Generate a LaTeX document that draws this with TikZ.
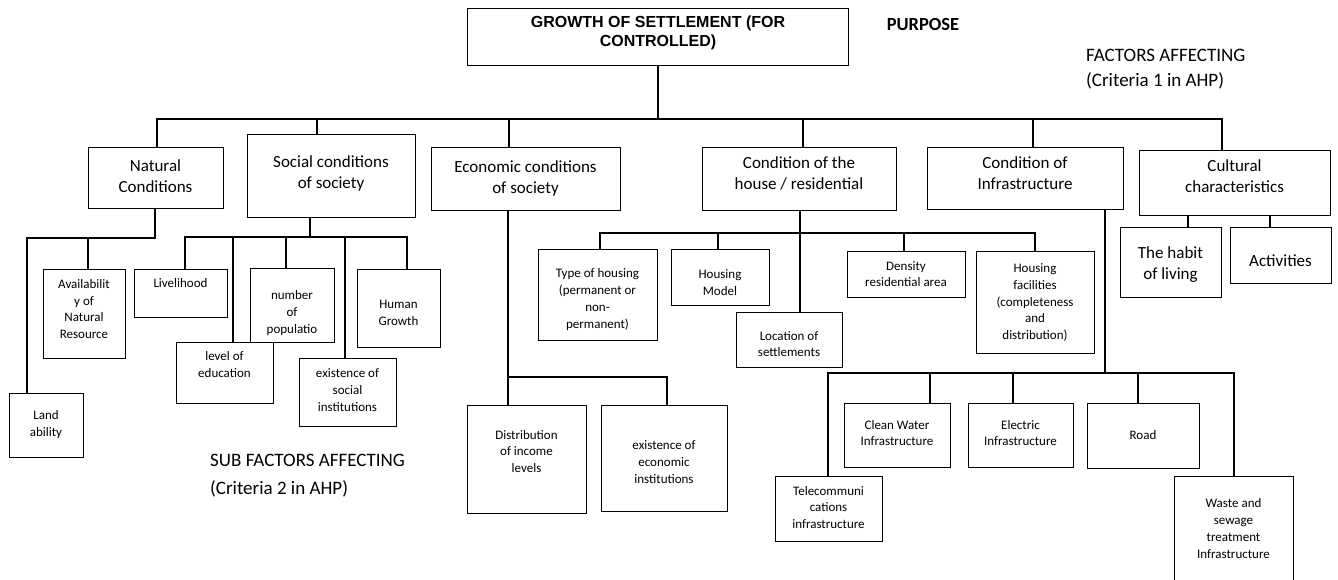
\documentclass[tikz,border=0pt]{standalone}
\usepackage{fontspec}
\setmainfont{Carlito}
\newfontfamily\arialf{Liberation Sans}
\newcommand\smallf{\fontsize{13}{16.7}\selectfont}
\newcommand\medf{\fontsize{17}{21}\selectfont}
\newcommand\bx[8]{%
  \node[boxst, anchor=north west, minimum width={#4pt-#2pt}, minimum height={#5pt-#3pt}] (#1) at (#2,#3) {};
  \node[#7] (#1t) at ({(#2+#4)/2},#6) {#8};
}
\tikzset{
  boxst/.style={draw, line width=1.3pt, inner sep=0pt},
  tree/.style={line width=2.4pt, line cap=rect, line join=miter},
  thinl/.style={line width=1.4pt},
  small/.style={font=\smallf, align=center, inner sep=0pt},
  med/.style={font=\medf, align=center, inner sep=0pt},
}
\begin{document}
\begin{tikzpicture}[x=1pt,y=-1pt]
\useasboundingbox (0,0) rectangle (1338,580);
\clip (0,0) rectangle (1338,580);
\fill[white] (0,0) rectangle (1338,580);

% top
\node[boxst, anchor=north west, minimum width=381pt, minimum height=57pt] (top) at (467,8) {};
\node[font=\arialf\bfseries\fontsize{16}{19}\selectfont, align=center, inner sep=0pt] (topt) at (658,32.5) {GROWTH OF SETTLEMENT (FOR\\CONTROLLED)};
\node[font=\bfseries\fontsize{18.5}{22}\selectfont, inner sep=0pt] (purpose) at (923,25) {PURPOSE};
\node[anchor=west, font=\fontsize{19}{25}\selectfont, align=left, inner sep=0pt] (crit1) at (1086,69) {FACTORS AFFECTING\\(Criteria 1 in AHP)};
\node[anchor=west, font=\fontsize{19}{28}\selectfont, align=left, inner sep=0pt] (crit2) at (210,476) {SUB FACTORS AFFECTING\\(Criteria 2 in AHP)};

% factors
\bx{nat}{88}{147}{223}{208}{176}{med}{Natural\\Conditions}
\bx{soc}{247}{134}{415}{217}{173}{med}{Social conditions\\of society}
\bx{eco}{431}{147}{620}{210}{178}{med}{Economic conditions\\of society}
\bx{hou}{702}{147}{896}{210}{173}{med}{Condition of the\\house / residential}
\bx{inf}{927}{147}{1123}{209}{173}{med}{Condition of\\Infrastructure}
\bx{cul}{1139}{150}{1330}{215}{176}{med}{Cultural\\characteristics}

% sub factors
\bx{ava}{43}{269}{125}{358}{309}{small}{Availabilit\\y of\\Natural\\Resource}
\bx{lan}{9}{393}{83}{457}{424.5}{small}{Land\\ability}
\bx{liv}{134}{269}{227}{317}{283}{small}{Livelihood}
\bx{lev}{176}{342}{273}{403}{364.5}{small}{level of\\education}
\bx{num}{250}{268}{334}{342}{313}{small}{number\\of\\populatio}
\bx{exs}{299}{358}{396}{426}{390}{small}{existence of\\social\\institutions}
\bx{hum}{357}{269}{440}{347}{313}{small}{Human\\Growth}
\bx{dis}{467}{405}{586}{513}{451.5}{small}{Distribution\\of income\\levels}
\bx{exe}{601}{405}{727}{511}{462}{small}{existence of\\economic\\institutions}
\bx{typ}{538}{249}{657}{340}{299.5}{small}{Type of housing\\(permanent or\\non-\\permanent)}
\bx{mod}{671}{249}{769}{305}{282.5}{small}{Housing\\Model}
\bx{loc}{736}{312}{842}{367}{344}{small}{Location of\\settlements}
\bx{den}{847}{251}{965}{297}{274}{small}{Density\\residential area}
\bx{fac}{976}{251}{1094}{353}{302.5}{small}{Housing\\facilities\\(completeness\\and\\distribution)}
\bx{tel}{775}{476}{882}{541}{507.5}{small}{Telecommuni\\cations\\infrastructure}
\bx{cle}{844}{403}{950}{467}{433}{small}{Clean Water\\Infrastructure}
\bx{ele}{968}{403}{1073}{467}{433}{small}{Electric\\Infrastructure}
\bx{roa}{1087}{403}{1199}{468}{435}{small}{Road}
\bx{was}{1174}{476}{1293}{592}{528.5}{small}{Waste and\\sewage\\treatment\\Infrastructure}
\bx{hab}{1120}{227}{1221}{297}{264.5}{med}{The habit\\of living}
\bx{act}{1230}{227}{1331}{283}{261}{med}{Activities}

% main bus
\coordinate (bL) at (157,119);
\coordinate (bR) at (1222,119);
\coordinate (jS) at (317,119);
\coordinate (jE) at (509,119);
\coordinate (jH) at (803,119);
\coordinate (jI) at (1033,119);
\draw[thinl] (top.south) -- (top.south |- bL);
\draw[tree] (bL) -- (bR);
\draw[tree] (bL) -- (bL |- nat.north);
\draw[tree] (jS) -- (jS |- soc.north);
\draw[tree] (jE) -- (jE |- eco.north);
\draw[tree] (jH) -- (jH |- hou.north);
\draw[tree] (jI) -- (jI |- inf.north);
\draw[tree] (bR) -- (bR |- cul.north);

% natural
\coordinate (nA) at (155,238);
\coordinate (nB) at (27,238);
\coordinate (nC) at (88,238);
\draw[tree] (nA |- nat.south) -- (nA) -- (nB) -- (nB |- lan.north);
\draw[tree] (nC) -- (nC |- ava.north);

% social
\coordinate (sA) at (310,237);
\coordinate (sL) at (185,237);
\coordinate (s2) at (233,237);
\coordinate (s3) at (286,237);
\coordinate (s4) at (345,237);
\coordinate (sR) at (407,237);
\draw[tree] (sA |- soc.south) -- (sA);
\draw[tree] (sL |- liv.north) -- (sL) -- (sR) -- (sR |- hum.north);
\draw[tree] (s2) -- (s2 |- lev.north);
\draw[tree] (s3) -- (s3 |- num.north);
\draw[tree] (s4) -- (s4 |- exs.north);

% economic
\coordinate (eA) at (508,377);
\coordinate (eB) at (667,377);
\draw[tree] (eA |- eco.south) -- (eA |- dis.north);
\draw[tree] (eA) -- (eB) -- (eB |- exe.north);

% house
\coordinate (hA) at (800,233);
\coordinate (hL) at (600,233);
\coordinate (h2) at (718,233);
\coordinate (h3) at (904,233);
\coordinate (hR) at (1035,233);
\draw[tree] (hA |- hou.south) -- (hA |- loc.north);
\draw[tree] (hL |- typ.north) -- (hL) -- (hR) -- (hR |- fac.north);
\draw[tree] (h2) -- (h2 |- mod.north);
\draw[tree] (h3) -- (h3 |- den.north);

% infrastructure
\coordinate (iA) at (1105,373);
\coordinate (iL) at (828,373);
\coordinate (i2) at (930,373);
\coordinate (i3) at (1013,373);
\coordinate (i4) at (1138,373);
\coordinate (iR) at (1234,373);
\draw[tree] (iA |- inf.south) -- (iA);
\draw[tree] (iL |- tel.north) -- (iL) -- (iR) -- (iR |- was.north);
\draw[tree] (i2) -- (i2 |- cle.north);
\draw[tree] (i3) -- (i3 |- ele.north);
\draw[tree] (i4) -- (i4 |- roa.north);

% cultural
\coordinate (c1) at (1188,215);
\coordinate (c2) at (1270,215);
\draw[tree] (c1 |- cul.south) -- (c1 |- hab.north);
\draw[tree] (c2 |- cul.south) -- (c2 |- act.north);
\end{tikzpicture}
\end{document}
